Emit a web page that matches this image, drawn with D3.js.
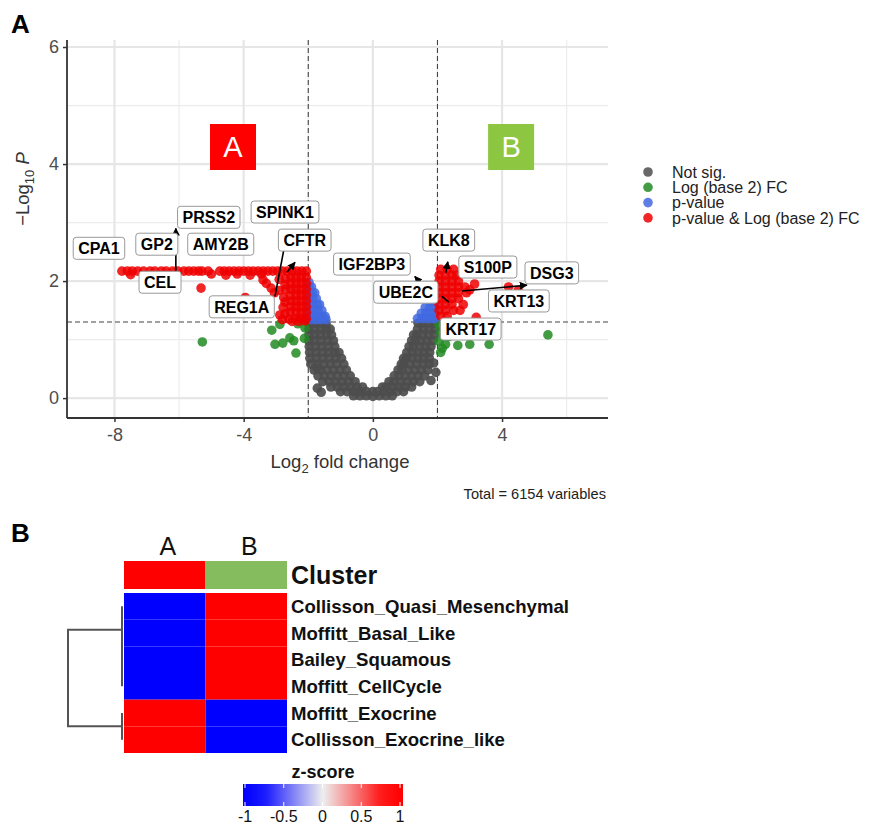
<!DOCTYPE html>
<html>
<head>
<meta charset="utf-8">
<script src="https://cdn.jsdelivr.net/npm/d3@7"></script>
<style>
  body { margin: 0; background: #fff; }
  svg { font-family: "Liberation Sans", Arial, sans-serif; }
</style>
</head>
<body>
<svg id="graph" width="869" height="828"></svg>
<script>
// ---- volcano data: [log2 fold change, -log10 p] ----
var notSig = [
  [-1.98,1.28],[-1.8,1.28],[-1.62,1.28],[-1.45,1.28],
  [-1.98,1.18],[-1.8,1.18],[-1.62,1.18],[-1.44,1.18],[-1.32,1.18],
  [-1.98,1.08],[-1.8,1.08],[-1.62,1.08],[-1.44,1.08],[-1.28,1.08],
  [-1.98,0.98],[-1.8,0.98],[-1.6,0.98],[-1.4,0.98],[-1.22,0.98],
  [-1.97,0.88],[-1.78,0.88],[-1.58,0.88],[-1.38,0.88],[-1.18,0.88],
  [-1.96,0.78],[-1.76,0.78],[-1.56,0.78],[-1.36,0.78],[-1.18,0.78],[-1.05,0.78],
  [-1.95,0.68],[-1.75,0.68],[-1.55,0.68],[-1.35,0.68],[-1.15,0.68],[-0.97,0.68],
  [-1.92,0.58],[-1.72,0.58],[-1.52,0.58],[-1.32,0.58],[-1.12,0.58],[-0.9,0.58],
  [-1.82,0.48],[-1.62,0.48],[-1.42,0.48],[-1.22,0.48],[-1.02,0.48],[-0.82,0.48],
  [-1.7,0.38],[-1.5,0.38],[-1.3,0.38],[-1.1,0.38],[-0.9,0.38],[-0.7,0.38],
  [-1.55,0.28],[-1.35,0.28],[-1.15,0.28],[-0.95,0.28],[-0.75,0.28],[-0.55,0.28],
  [-1.3,0.19],[-1.1,0.19],[-0.9,0.19],[-0.7,0.19],[-0.5,0.19],[-0.32,0.19],
  [-1.0,0.11],[-0.8,0.11],[-0.6,0.11],[-0.4,0.11],[-0.2,0.11],[0,0.11],
  [-0.6,0.04],[-0.4,0.04],[-0.2,0.04],[0,0.03],[0.2,0.04],[0.4,0.04],[0.6,0.04],
  [1.9,1.28],[1.72,1.28],[1.54,1.28],[1.4,1.28],
  [1.92,1.18],[1.74,1.18],[1.56,1.18],[1.38,1.18],
  [1.9,1.08],[1.72,1.08],[1.54,1.08],[1.36,1.08],[1.26,1.08],
  [1.85,0.98],[1.67,0.98],[1.49,0.98],[1.31,0.98],[1.2,0.98],
  [1.8,0.88],[1.62,0.88],[1.44,0.88],[1.26,0.88],[1.12,0.88],
  [1.76,0.78],[1.58,0.78],[1.4,0.78],[1.22,0.78],[1.05,0.78],
  [1.75,0.68],[1.57,0.68],[1.39,0.68],[1.21,0.68],[1.03,0.68],[0.95,0.68],
  [1.74,0.58],[1.55,0.58],[1.35,0.58],[1.15,0.58],[0.95,0.58],[0.88,0.58],
  [1.7,0.48],[1.5,0.48],[1.3,0.48],[1.1,0.48],[0.9,0.48],[0.78,0.48],
  [1.6,0.38],[1.4,0.38],[1.2,0.38],[1.0,0.38],[0.8,0.38],[0.66,0.38],
  [1.45,0.28],[1.25,0.28],[1.05,0.28],[0.85,0.28],[0.65,0.28],[0.5,0.28],
  [1.2,0.19],[1.0,0.19],[0.8,0.19],[0.6,0.19],[0.4,0.19],[0.3,0.19],
  [0.95,0.11],[0.75,0.11],[0.55,0.11],[0.35,0.11],[0.15,0.11],
  [-1.72,0.51],[-1.72,0.17],[-1.6,0.1],[1.95,0.44],[1.88,0.6],[1.8,0.3]
];

var fcOnly = [
  [-5.28,0.96],[-3.13,1.16],[-2.88,1.26],[-3.03,0.92],[-2.79,0.94],[-2.57,1.03],
  [-2.32,1.27],[-2.38,0.77],[-2.1,1.2],[-2.45,0.98],[-2.12,1.02],
  [2.05,1.25],[2.1,1.12],[2.05,0.97],[2.15,0.85],[2.25,0.92],[2.1,0.78],[2.3,1.25],
  [2.6,1.26],[2.63,0.9],[3.0,0.92],[3.6,0.92],[5.42,1.08],[2.45,1.18],[2.35,1.05]
];

var pOnly = [
  [-1.98,1.98],
  [-1.98,1.9],[-1.9,1.9],
  [-1.98,1.8],[-1.88,1.8],[-1.8,1.8],
  [-1.98,1.7],[-1.86,1.7],[-1.75,1.7],
  [-1.98,1.6],[-1.85,1.6],[-1.72,1.6],[-1.65,1.6],
  [-1.98,1.5],[-1.84,1.5],[-1.7,1.5],[-1.58,1.5],
  [-1.98,1.4],[-1.84,1.4],[-1.7,1.4],[-1.56,1.4],[-1.48,1.4],
  [-1.9,1.34],[-1.75,1.34],[-1.6,1.34],[-1.45,1.34],
  [1.92,1.75],
  [1.8,1.65],[1.92,1.65],
  [1.62,1.55],[1.76,1.55],[1.9,1.55],
  [1.5,1.45],[1.64,1.45],[1.78,1.45],[1.92,1.45],
  [1.38,1.36],[1.52,1.36],[1.66,1.36],[1.8,1.36],[1.92,1.36]
];

var pAndFc = [
  [-7.77,2.17],[-7.6,2.17],[-7.45,2.17],[-7.28,2.17],[-7.1,2.17],[-6.9,2.17],
  [-6.75,2.17],[-6.55,2.17],[-6.4,2.17],[-6.2,2.17],[-6.04,2.17],[-5.85,2.17],
  [-5.7,2.17],[-5.55,2.17],[-5.4,2.17],[-5.29,2.17],[-5.1,2.17],[-4.74,2.17],
  [-4.6,2.17],[-4.45,2.17],[-4.3,2.17],[-4.15,2.17],[-4.0,2.17],[-3.85,2.17],
  [-3.7,2.17],[-3.55,2.17],[-3.4,2.17],[-3.25,2.17],[-3.1,2.17],[-2.95,2.17],
  [-2.8,2.17],[-2.65,2.17],[-2.5,2.17],[-2.35,2.17],[-2.2,2.17],[-2.06,2.17],
  [-7.5,2.11],[-6.3,2.12],[-5.0,2.12],[-4.55,2.1],[-4.2,2.12],[-3.8,2.1],[-3.45,2.12],
  [-5.32,1.88],[-3.95,1.72],[-3.3,1.96],[-3.15,1.88],[-3.4,2.02],[-3.05,1.8],
  [-2.06,2.06],[-2.22,2.06],[-2.38,2.06],[-2.54,2.06],[-2.7,2.04],[-2.9,2.03],
  [-2.06,1.96],[-2.22,1.96],[-2.38,1.96],[-2.54,1.96],[-2.72,1.94],
  [-2.06,1.86],[-2.22,1.86],[-2.38,1.86],[-2.54,1.86],[-2.7,1.86],[-2.9,1.84],
  [-2.06,1.76],[-2.22,1.76],[-2.38,1.76],[-2.56,1.75],[-2.76,1.72],
  [-2.06,1.66],[-2.22,1.66],[-2.38,1.66],[-2.54,1.66],[-2.72,1.64],
  [-2.06,1.56],[-2.22,1.56],[-2.38,1.56],[-2.54,1.56],[-2.78,1.55],
  [-2.06,1.46],[-2.22,1.46],[-2.38,1.46],[-2.56,1.47],[-2.72,1.44],[-2.88,1.42],
  [-2.06,1.36],[-2.22,1.36],[-2.4,1.36],[-2.6,1.35],[-2.8,1.34],
  [-2.1,1.32],[-2.3,1.31],[-2.5,1.31],
  [2.1,2.2],[2.3,2.2],[2.5,2.2],
  [2.05,2.1],[2.25,2.1],[2.45,2.1],[2.6,2.1],
  [2.05,2.0],[2.25,2.0],[2.45,2.0],[2.65,2.0],
  [2.05,1.9],[2.25,1.9],[2.45,1.9],[2.65,1.9],[2.85,1.9],
  [2.05,1.8],[2.25,1.8],[2.45,1.8],[2.65,1.8],[2.9,1.8],
  [2.05,1.7],[2.25,1.7],[2.45,1.7],[2.65,1.7],
  [2.05,1.6],[2.25,1.6],[2.45,1.6],[2.8,1.6],
  [2.05,1.5],[2.25,1.5],[2.5,1.5],[2.7,1.5],
  [2.1,1.4],[2.3,1.4],
  [3.15,1.95],[3.0,1.85],[3.2,1.38],[4.2,1.9],[4.5,1.84]
];

var legendLabels = ["Not sig.", "Log (base 2) FC", "p-value", "p-value & Log (base 2) FC"];
var legendColors = ["#4d4d4d", "#228B22", "#4169E1", "#EE0000"];

// gene labels, placed at [fc, -log10 p] of the label centre
var labelGenes = ["CPA1","GP2","PRSS2","AMY2B","SPINK1","CFTR","CEL","REG1A",
                  "IGF2BP3","KLK8","S100P","UBE2C","DSG3","KRT13","KRT17"];
var labelFC = [-8.48,-6.69,-5.08,-4.71,-2.72,-2.11,-6.59,-4.06,
               -0.03,2.35,3.56,1.02,5.54,4.52,3.03];
var labelLogP = [2.56,2.63,3.09,2.63,3.18,2.70,1.98,1.56,
                 2.29,2.70,2.24,1.81,2.14,1.66,1.18];

// connector segments [fc0, p0, fc1, p1, arrow]
var segments = [
  [-6.1,2.17,-6.1,2.9,1],
  [-2.66,2.15,-2.41,2.32,1],
  [-3.03,1.74,-2.76,2.53,0],
  [1.46,1.97,1.3,2.08,1],
  [2.26,2.14,2.32,2.33,1],
  [2.14,1.74,2.35,1.64,0],
  [2.76,1.83,4.77,1.93,1]
];

var fcCut = 2, pCut = 1.301;
var totalText = "Total = 6154 variables";

// ---- heatmap data ----
var hmColumns = ["A", "B"];
var clusterColors = ["#ff0000", "#85bc5e"];
var hmRows = ["Collisson_Quasi_Mesenchymal","Moffitt_Basal_Like","Bailey_Squamous",
              "Moffitt_CellCycle","Moffitt_Exocrine","Collisson_Exocrine_like"];
var hmA = [-1,-1,-1,-1,1,1];
var hmB = [1,1,1,1,-1,-1];
// hclust style merges: negative = leaf (1-based), positive = earlier merge
var merges = [[-3,-4],[-2,1],[-1,2],[-5,-6],[3,4]];
var mergeHeights = [0,0,0,0,1];
var zTicks = [-1,-0.5,0,0.5,1];

var svg = d3.select("#graph");
var font = '"Liberation Sans", Arial, sans-serif';
var plain = function(d){ return String(d); };

// ================= panel A =================
var x = d3.scaleLinear().domain([-9.47, 7.28]).range([67, 608]);
var y = d3.scaleLinear().domain([-0.34, 6.12]).range([418, 40]);

var grid = svg.append("g");
[-6,-2,2,6].forEach(function(v){
  grid.append("line").attr("x1",x(v)).attr("x2",x(v)).attr("y1",40).attr("y2",418)
      .attr("stroke","#ececec").attr("stroke-width",1.2);
});
[1,3,5].forEach(function(v){
  grid.append("line").attr("x1",67).attr("x2",608).attr("y1",y(v)).attr("y2",y(v))
      .attr("stroke","#ececec").attr("stroke-width",1.2);
});
[-8,-4,0,4].forEach(function(v){
  grid.append("line").attr("x1",x(v)).attr("x2",x(v)).attr("y1",40).attr("y2",418)
      .attr("stroke","#e6e6e6").attr("stroke-width",2.2);
});
[0,2,4,6].forEach(function(v){
  grid.append("line").attr("x1",67).attr("x2",608).attr("y1",y(v)).attr("y2",y(v))
      .attr("stroke","#e6e6e6").attr("stroke-width",2.2);
});

// threshold lines
svg.append("g").selectAll("line").data([-fcCut, fcCut]).enter().append("line")
  .attr("x1", function(d){ return x(d); }).attr("x2", function(d){ return x(d); })
  .attr("y1", 40).attr("y2", 418)
  .attr("stroke", "#444").attr("stroke-width", 1.1).attr("stroke-dasharray", "5,3");
svg.append("line")
  .attr("x1", 67).attr("x2", 608).attr("y1", y(pCut)).attr("y2", y(pCut))
  .attr("stroke", "#444").attr("stroke-width", 1.1).attr("stroke-dasharray", "5,3");

// points
var groups = [notSig, fcOnly, pOnly, pAndFc];
var pts = svg.append("g");
groups.forEach(function(g, i){
  pts.selectAll(".p" + i).data(g).enter().append("circle")
    .attr("class", "p" + i)
    .attr("cx", function(d){ return x(d[0]); })
    .attr("cy", function(d){ return y(d[1]); })
    .attr("r", 4.8)
    .attr("fill", legendColors[i])
    .attr("fill-opacity", i == 0 ? 0.92 : 0.85);
});

// axes
var xAxis = svg.append("g").attr("transform", "translate(0,418)")
  .call(d3.axisBottom(x).tickValues([-8,-4,0,4]).tickFormat(plain).tickSize(4).tickPadding(6));
var yAxis = svg.append("g").attr("transform", "translate(67,0)")
  .call(d3.axisLeft(y).tickValues([0,2,4,6]).tickFormat(plain).tickSize(4).tickPadding(4));
[xAxis, yAxis].forEach(function(a){
  a.select(".domain").attr("stroke", "#333").attr("stroke-width", 1.8);
  a.selectAll(".tick line").attr("stroke", "#333").attr("stroke-width", 1.5);
  a.selectAll(".tick text").attr("fill", "#4d4d4d").attr("font-size", 18).attr("font-family", font);
});
// ggplot style: axis lines end at panel edge, no outer tick
xAxis.select(".domain").attr("d", "M67,0H608");
yAxis.select(".domain").attr("d", "M0,40V418");

// axis titles
var xt = svg.append("text").attr("x", 340).attr("y", 468).attr("text-anchor", "middle")
  .attr("font-size", 18.5).attr("fill", "#333");
xt.append("tspan").text("Log");
xt.append("tspan").text("2").attr("font-size", 13).attr("dy", 5);
xt.append("tspan").text(" fold change").attr("dy", -5);

var yt = svg.append("text").attr("transform", "translate(29,189) rotate(-90)")
  .attr("text-anchor", "middle").attr("font-size", 18.5).attr("fill", "#333");
yt.append("tspan").text("\u2212Log");
yt.append("tspan").text("10").attr("font-size", 13).attr("dy", 5);
yt.append("tspan").text(" P").attr("dy", -5).attr("font-style", "italic");

// cluster badges
var badges = [["A", -4.33, "#ff0000"], ["B", 4.28, "#8dc641"]];
badges.forEach(function(b){
  svg.append("rect").attr("x", x(b[1]) - 23).attr("y", 124).attr("width", 46).attr("height", 46)
    .attr("fill", b[2]);
  svg.append("text").attr("x", x(b[1])).attr("y", 157).attr("text-anchor", "middle")
    .attr("font-size", 29).attr("fill", "#fff").text(b[0]);
});

// segments
svg.append("defs").append("marker")
  .attr("id", "arr").attr("viewBox", "0 0 10 10").attr("refX", 9).attr("refY", 5)
  .attr("markerWidth", 5).attr("markerHeight", 5).attr("orient", "auto")
  .append("path").attr("d", "M0,0L10,5L0,10z").attr("fill", "#000");
svg.append("g").selectAll("line").data(segments).enter().append("line")
  .attr("x1", function(d){ return x(d[0]); }).attr("y1", function(d){ return y(d[1]); })
  .attr("x2", function(d){ return x(d[2]); }).attr("y2", function(d){ return y(d[3]); })
  .attr("stroke", "#000").attr("stroke-width", 1.6)
  .attr("marker-end", function(d){ return d[4] ? "url(#arr)" : null; });

// labels
labelGenes.forEach(function(gname, i){
  var g = svg.append("g").attr("transform", "translate(" + x(labelFC[i]) + "," + y(labelLogP[i]) + ")");
  var t = g.append("text").attr("text-anchor", "middle").attr("dy", "0.36em")
    .attr("font-size", 16).attr("font-weight", "bold").attr("fill", "#000").text(gname);
  var w = t.node().getComputedTextLength();
  g.insert("rect", "text").attr("x", -w/2 - 5).attr("y", -11).attr("width", w + 10).attr("height", 22)
    .attr("rx", 3).attr("fill", "#fff").attr("stroke", "#999").attr("stroke-width", 1);
});

// legend
var lg = svg.append("g");
legendLabels.forEach(function(l, i){
  var yy = 172 + i * 15.3;
  lg.append("circle").attr("cx", 648).attr("cy", yy).attr("r", 4.8)
    .attr("fill", legendColors[i]).attr("fill-opacity", 0.85);
  lg.append("text").attr("x", 672).attr("y", yy).attr("dy", "0.36em")
    .attr("font-size", 16).attr("fill", "#222").text(l);
});

svg.append("text").attr("x", 606).attr("y", 499).attr("text-anchor", "end")
  .attr("font-size", 14.6).attr("fill", "#222").text(totalText);

// panel letters
svg.append("text").attr("x", 11).attr("y", 33).attr("font-size", 26).attr("font-weight", "bold").text("A");
svg.append("text").attr("x", 11).attr("y", 542).attr("font-size", 26).attr("font-weight", "bold").text("B");

// ================= panel B =================
var hx = d3.scaleBand().domain(hmColumns).range([124, 287]);
var hy = d3.scaleBand().domain(hmRows).range([593, 753]);
var zColor = d3.scaleLinear().domain([-1,-0.72,0,0.72,1])
  .range(["#0000ff","#1a1aff","#eeeeee","#ff1a1a","#ff0000"]);

svg.append("g").selectAll("text").data(hmColumns).enter().append("text")
  .attr("x", function(d){ return hx(d) + hx.bandwidth()/2 + 3; }).attr("y", 555)
  .attr("text-anchor", "middle").attr("font-size", 25).attr("fill", "#111").text(function(d){ return d; });

svg.append("g").selectAll("rect").data(hmColumns).enter().append("rect")
  .attr("x", function(d){ return hx(d); }).attr("y", 561)
  .attr("width", hx.bandwidth()).attr("height", 28)
  .attr("fill", function(d, i){ return clusterColors[i]; });
svg.append("text").attr("x", 291).attr("y", 584).attr("font-size", 25).attr("font-weight", "bold")
  .attr("fill", "#111").text("Cluster");

var cells = [];
hmRows.forEach(function(r, i){
  cells.push({row: r, col: "A", v: hmA[i]});
  cells.push({row: r, col: "B", v: hmB[i]});
});
svg.append("g").selectAll("rect").data(cells).enter().append("rect")
  .attr("x", function(d){ return hx(d.col); }).attr("y", function(d){ return hy(d.row); })
  .attr("width", hx.bandwidth()).attr("height", hy.bandwidth())
  .attr("fill", function(d){ return zColor(d.v); });

svg.append("g").selectAll("text").data(hmRows).enter().append("text")
  .attr("x", 291).attr("y", function(d){ return hy(d) + hy.bandwidth()/2; }).attr("dy", "0.36em")
  .attr("font-size", 18.6).attr("font-weight", "bold").attr("fill", "#111").text(function(d){ return d; });

// dendrogram
var hScale = d3.scaleLinear().domain([0, 1]).range([122, 68]);
var nodePos = [];
function posOf(id){
  if (id < 0) return { y: hy(hmRows[-id - 1]) + hy.bandwidth()/2, h: 0 };
  return nodePos[id - 1];
}
var dg = svg.append("g").attr("stroke", "#555").attr("stroke-width", 2).attr("fill", "none");
merges.forEach(function(m, i){
  var a = posOf(m[0]), b = posOf(m[1]), h = mergeHeights[i];
  dg.append("path").attr("d",
    "M" + hScale(a.h) + "," + a.y + "H" + hScale(h) + "V" + b.y + "H" + hScale(b.h));
  nodePos.push({ y: (a.y + b.y) / 2, h: h });
});

// colour key
var zx = d3.scaleLinear().domain([-1, 1]).range([245, 400]);
var grad = svg.select("defs").append("linearGradient").attr("id", "zgrad")
  .attr("x1", "0%").attr("x2", "100%");
d3.range(0, 21).forEach(function(k){
  var v = -1 + k * 0.1;
  grad.append("stop").attr("offset", (k * 5) + "%").attr("stop-color", zColor(v));
});
svg.append("text").attr("x", 323).attr("y", 778).attr("text-anchor", "middle")
  .attr("font-size", 18).attr("font-weight", "bold").attr("fill", "#111").text("z-score");
svg.append("rect").attr("x", 243).attr("y", 784).attr("width", 160).attr("height", 22)
  .attr("fill", "url(#zgrad)");
var zk = svg.append("g");
zTicks.forEach(function(v){
  zk.append("line").attr("x1", zx(v)).attr("x2", zx(v)).attr("y1", 784).attr("y2", 788)
    .attr("stroke", "#fff").attr("stroke-width", 1);
  zk.append("line").attr("x1", zx(v)).attr("x2", zx(v)).attr("y1", 802).attr("y2", 806)
    .attr("stroke", "#fff").attr("stroke-width", 1);
  zk.append("text").attr("x", zx(v)).attr("y", 822).attr("text-anchor", "middle")
    .attr("font-size", 16).attr("fill", "#111").text(String(v));
});
</script>
</body>
</html>
